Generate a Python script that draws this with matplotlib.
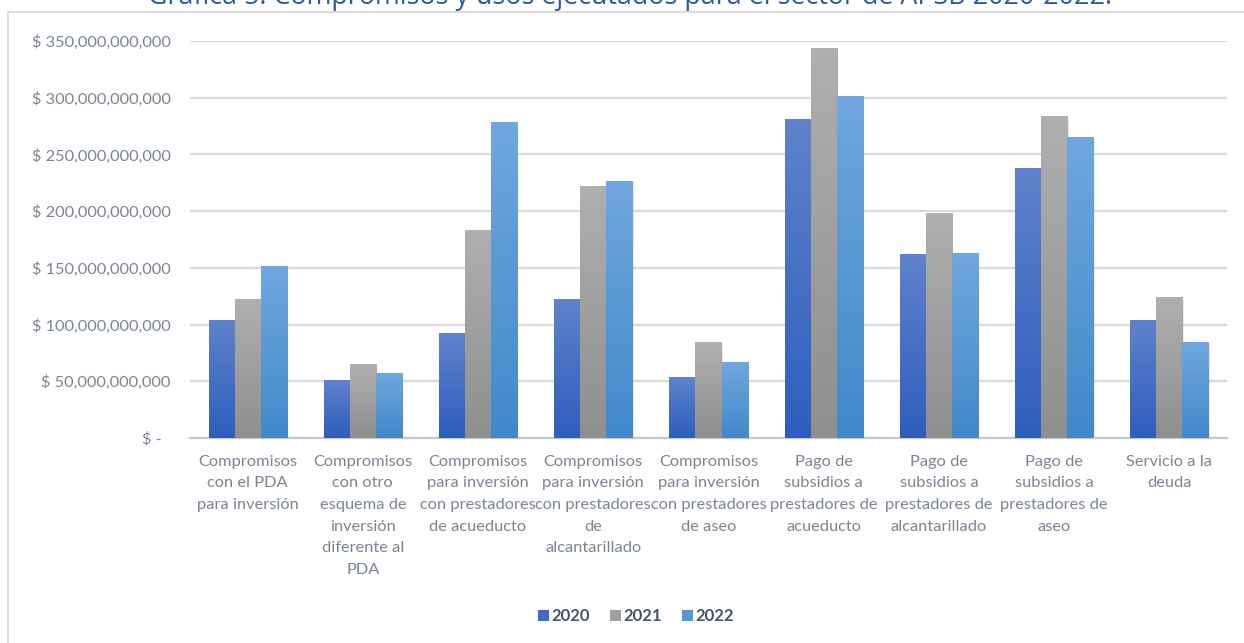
import numpy as np
import matplotlib
matplotlib.use("Agg")
import matplotlib.pyplot as plt
from matplotlib.colors import LinearSegmentedColormap
from matplotlib.patches import Patch, Rectangle
from matplotlib.ticker import FuncFormatter

# data (pesos)
categorias = [
    "Compromisos\ncon el PDA\npara inversión",
    "Compromisos\ncon otro\nesquema de\ninversión\ndiferente al\nPDA",
    "Compromisos\npara inversión\ncon prestadores\nde acueducto",
    "Compromisos\npara inversión\ncon prestadores\nde\nalcantarillado",
    "Compromisos\npara inversión\ncon prestadores\nde aseo",
    "Pago de\nsubsidios a\nprestadores de\nacueducto",
    "Pago de\nsubsidios a\nprestadores de\nalcantarillado",
    "Pago de\nsubsidios a\nprestadores de\naseo",
    "Servicio a la\ndeuda",
]
anios = ["2020", "2021", "2022"]
v2020 = [104e9, 51e9, 92e9, 122.5e9, 53e9, 281e9, 162e9, 238e9, 104e9]
v2021 = [122e9, 65e9, 183e9, 222e9, 84e9, 343e9, 197.5e9, 283e9, 123.5e9]
v2022 = [151e9, 57e9, 278e9, 226.5e9, 67e9, 301.5e9, 163e9, 265e9, 84e9]
yticks = [0, 50e9, 100e9, 150e9, 200e9, 250e9, 300e9, 350e9]
titulo = "Gráfica 5. Compromisos y usos ejecutados para el sector de APSB 2020-2022."

series = [v2020, v2021, v2022]
# (top colour, bottom colour) for the vertical gradient
grad = [("#5f82cb", "#2e5ebd"), ("#afafaf", "#8f8f8f"), ("#70a7de", "#4189cb")]
solid = ["#3f69c4", "#a0a0a0", "#5597d6"]

W, H = 1244, 643
fig = plt.figure(figsize=(W / 100, H / 100), dpi=100)
ax = fig.add_axes([190 / W, 1 - 438 / H, (1227 - 190) / W, (438 - 41) / H])

tick_col = "#7a8593"
font = "Lato"
fs = 11.8

# outer frame of the chart area
fig.patches.append(Rectangle((8 / W, -0.05), 1.1, 1 - 12 / H + 0.05,
                             transform=fig.transFigure, fill=False,
                             edgecolor="#d6d6d6", lw=1.2))

# title, mostly cut off above the image: fit it to the width it has in the source
t = fig.text(630 / W, 1 - 4 / H, titulo, ha="center", va="baseline",
             fontsize=16, color="#2f5a96", family="Open Sans")
r = fig.canvas.get_renderer()
t.set_fontsize(16 * 964 / t.get_window_extent(r).width)

x = np.arange(len(categorias))
w = 0.226
grad_img = np.linspace(0, 1, 64).reshape(-1, 1)
for i, vals in enumerate(series):
    cmap = LinearSegmentedColormap.from_list("g%d" % i, [grad[i][1], grad[i][0]])
    for xi, v in zip(x, vals):
        x0 = xi + (i - 1) * w - w / 2
        ax.imshow(grad_img, extent=[x0, x0 + w, 0, v], origin="lower", aspect="auto",
                  cmap=cmap, zorder=3, interpolation="bilinear")
        # soft shadow
        ax.add_patch(Rectangle((x0 + 0.012, 0), w, v - 1.2e9, facecolor="black",
                               alpha=0.08, lw=0, zorder=2.5))

ax.set_xlim(-0.5, len(categorias) - 0.5)
ax.set_ylim(0, 350e9)
ax.set_yticks(yticks)


def fmt(v, pos):
    if v == 0:
        return "$ -  "
    return "$ {:,.0f}".format(v)


ax.yaxis.set_major_formatter(FuncFormatter(fmt))
ax.set_xticks(x)
ax.set_xticklabels(categorias, linespacing=1.7)
ax.tick_params(axis="both", length=0, labelsize=fs, labelcolor=tick_col)
ax.tick_params(axis="y", pad=14)
ax.tick_params(axis="x", pad=12)
for lab in ax.get_xticklabels() + ax.get_yticklabels():
    lab.set_family(font)

ax.grid(axis="y", color="#d9d9d9", lw=1.6, zorder=0)
ax.set_axisbelow(True)
for s in ["top", "right", "left"]:
    ax.spines[s].set_visible(False)
ax.spines["bottom"].set_color("#c8c8c8")
ax.spines["bottom"].set_linewidth(1.6)

handles = [Patch(facecolor=c, edgecolor="none") for c in solid]
leg = fig.legend(handles, anios, loc="center", bbox_to_anchor=(636 / W, 1 - 616 / H),
                 ncol=3, frameon=False, handlelength=0.65, handleheight=0.65,
                 handletextpad=0.15, columnspacing=1.2,
                 prop={"family": font, "size": 12, "weight": "bold"})
for tx in leg.get_texts():
    tx.set_color("#44546a")

fig.savefig("out.png", dpi=100)
